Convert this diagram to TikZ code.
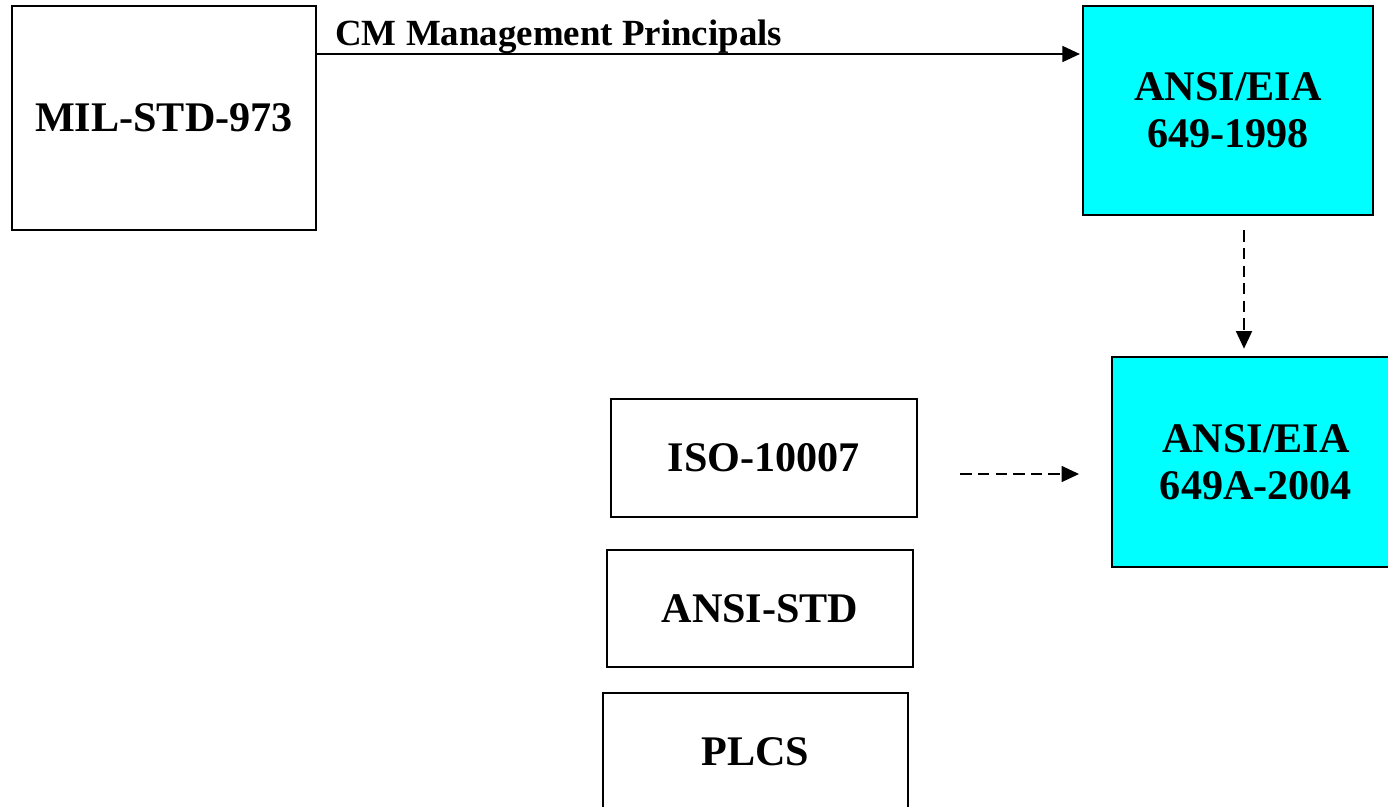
\documentclass[tikz,border=0pt]{standalone}
\usepackage{fontspec}
\setmainfont{Liberation Serif}
\usetikzlibrary{arrows.meta}
\definecolor{aqua}{RGB}{0,255,255}
\tikzset{
	stdbox/.style={draw,line width=1.5pt,align=center,inner sep=0pt,
		font=\fontsize{24}{27}\selectfont\bfseries},
	newbox/.style={stdbox,fill=aqua},
	solidarrow/.style={line width=1.3pt,-{Triangle[length=10pt,width=9pt]}},
	dasharrow/.style={solidarrow,dash pattern=on 6.5pt off 3.5pt}
}
\begin{document}
\begin{tikzpicture}[x=0.02cm,y=-0.02cm]
		\useasboundingbox (0,0) rectangle (1388,806);
		% standards boxes
		\node[stdbox,minimum width=6.08cm,minimum height=4.48cm] (mil) at (164,118) {MIL-STD-973};
		\node[newbox,minimum width=5.8cm,minimum height=4.18cm] (eia98) at (1228,110.5) {ANSI/EIA\\649-1998};
		\node[newbox,minimum width=5.76cm,minimum height=4.2cm] (eia04) at (1256,462) {ANSI/EIA\\649A-2004};
		\node[stdbox,minimum width=6.12cm,minimum height=2.36cm] (iso) at (764,458) {ISO-10007};
		\node[stdbox,minimum width=6.12cm,minimum height=2.34cm] (ansi) at (760,608.5) {ANSI-STD};
		\node[stdbox,minimum width=6.1cm,minimum height=2.36cm] (plcs) at (755.5,752) {PLCS};
		% arrows
		\coordinate (top) at (0,54);
		\coordinate (mid) at (0,474);
		\draw[solidarrow,shorten >=1pt] (mil.east |- top) -- (eia98.west |- top);
		\node[anchor=base west,inner sep=0pt,font=\fontsize{21}{24}\selectfont\bfseries] (cmlbl) at (335,45) {CM Management Principals};
		\draw[dasharrow,shorten <=8pt,shorten >=4pt] (eia98.south -| 1244,0) -- (eia04.north -| 1244,0);
		\draw[dasharrow,shorten <=24pt,shorten >=18pt] (iso.east |- mid) -- (eia04.west |- mid);
\end{tikzpicture}
\end{document}
